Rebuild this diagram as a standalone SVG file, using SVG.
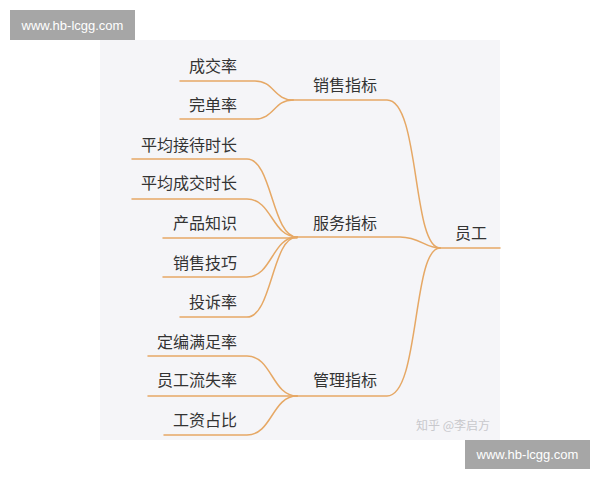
<svg xmlns="http://www.w3.org/2000/svg" width="600" height="480" viewBox="0 0 600 480">
<style>
.t{font-family:"Noto Sans CJK SC","Liberation Sans",sans-serif;font-size:16px;fill:#333}
.c{fill:none;stroke:#e6a865;stroke-width:1.5;stroke-linecap:round}
.wm{font-family:"Liberation Sans","DejaVu Sans",sans-serif;font-size:13px;fill:#fff}
</style>
<rect x="0" y="0" width="600" height="480" fill="#fff"/>
<rect x="100" y="40" width="400" height="400" fill="#f5f5f8"/>
<g id="connectors">
<path class="c" d="M440,248 H500"/>
<path class="c" d="M293,100 H387 C420,100 412,248 440,248"/>
<path class="c" d="M297,237 H400 C420,237 425,248 440,248"/>
<path class="c" d="M297,396 H387 C420,396 412,248 440,248"/>
<path class="c" d="M180,81 H255 C274,81 274,100 293,100"/>
<path class="c" d="M180,119 H255 C274,119 274,100 293,100"/>
<path class="c" d="M132,159 H247 C272,159 272,237 297,237"/>
<path class="c" d="M132,199 H247 C272,199 272,237 297,237"/>
<path class="c" d="M163,238 H297"/>
<path class="c" d="M163,277 H247 C272,277 272,237 297,237"/>
<path class="c" d="M180,317 H247 C272,317 272,237 297,237"/>
<path class="c" d="M148,356 H247 C272,356 272,396 297,396"/>
<path class="c" d="M148,396 H297"/>
<path class="c" d="M164,435 H247 C272,435 272,396 297,396"/>
</g>
<g id="root"><text class="t" x="455" y="239">员工</text></g>
<g id="sales"><text class="t" x="313" y="91">销售指标</text></g>
<g id="service"><text class="t" x="313" y="229">服务指标</text></g>
<g id="manage"><text class="t" x="313" y="386">管理指标</text></g>
<g id="n1"><text class="t" x="237" y="72" text-anchor="end">成交率</text></g>
<g id="n2"><text class="t" x="237" y="111" text-anchor="end">完单率</text></g>
<g id="n3"><text class="t" x="237" y="151" text-anchor="end">平均接待时长</text></g>
<g id="n4"><text class="t" x="237" y="189" text-anchor="end">平均成交时长</text></g>
<g id="n5"><text class="t" x="237" y="229" text-anchor="end">产品知识</text></g>
<g id="n6"><text class="t" x="237" y="269" text-anchor="end">销售技巧</text></g>
<g id="n7"><text class="t" x="237" y="308" text-anchor="end">投诉率</text></g>
<g id="n8"><text class="t" x="237" y="348" text-anchor="end">定编满足率</text></g>
<g id="n9"><text class="t" x="237" y="386" text-anchor="end">员工流失率</text></g>
<g id="n10"><text class="t" x="237" y="426" text-anchor="end">工资占比</text></g>
<text x="416" y="430" font-family="Noto Sans CJK SC,sans-serif" font-size="12" fill="#c8c8cc">知乎 @李启方</text>
<rect x="10" y="10" width="125" height="30" fill="#a6a6a6"/>
<text class="wm" x="72.5" y="30" text-anchor="middle">www.hb-lcgg.com</text>
<rect x="465" y="440" width="125" height="29" fill="#a6a6a6"/>
<text class="wm" x="527.5" y="459" text-anchor="middle">www.hb-lcgg.com</text>
</svg>
